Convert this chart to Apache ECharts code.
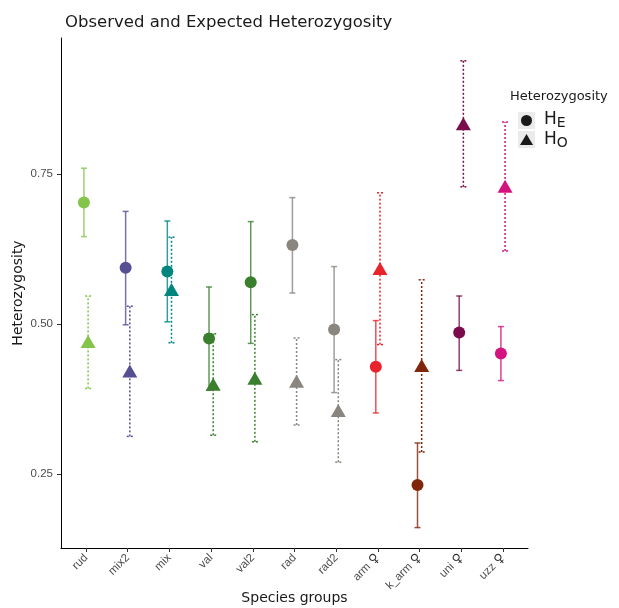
<!DOCTYPE html>
<html>
<head>
<meta charset="utf-8">
<script src="https://cdn.jsdelivr.net/npm/echarts@6/dist/echarts.min.js"></script>
<style>
  html, body { margin: 0; padding: 0; background: #fff; }
  #main { width: 619px; height: 608px; }
</style>
</head>
<body>
<div id="main"></div>
<script>
var groups = ['rud', 'mix2', 'mix', 'val', 'val2', 'rad', 'rad2', 'arm ♀', 'k_arm ♀', 'uni ♀', 'uzz ♀'];
var colors = ['#84c44b', '#564f94', '#00857f', '#3a7f2e', '#3a7f2e', '#8a857e', '#8a857e', '#e9232b', '#80260b', '#7a0c4c', '#d4137f'];

// expected heterozygosity (HE): mean, lower, upper
var heMean = [0.703, 0.594, 0.588, 0.476, 0.570, 0.632, 0.491, 0.429, 0.232, 0.486, 0.451];
var heLow  = [0.646, 0.499, 0.504, 0.390, 0.468, 0.552, 0.386, 0.352, 0.161, 0.423, 0.406];
var heHigh = [0.760, 0.688, 0.672, 0.562, 0.671, 0.711, 0.596, 0.506, 0.302, 0.547, 0.496];

// observed heterozygosity (HO): mean, lower, upper
var hoMean = [0.471, 0.422, 0.558, 0.400, 0.410, 0.405, 0.356, 0.593, 0.431, 0.834, 0.730];
var hoLow  = [0.393, 0.313, 0.469, 0.315, 0.304, 0.332, 0.270, 0.466, 0.287, 0.729, 0.622];
var hoHigh = [0.547, 0.530, 0.645, 0.484, 0.516, 0.477, 0.441, 0.719, 0.574, 0.939, 0.837];

var yTicks = [0.25, 0.50, 0.75];
var dodge = 0.05;

function rows(mean, low, high, off) {
  return mean.map(function (m, i) { return [i + off, low[i], high[i], m, i]; });
}

function barRender(dashed) {
  return function (params, api) {
    var x = api.value(0);
    var lo = api.coord([x, api.value(1)]);
    var hi = api.coord([x, api.value(2)]);
    var c = colors[api.value(4)];
    var w = 3;
    var style = { stroke: c, lineWidth: 1.5, opacity: dashed ? 1 : 0.8 };
    if (dashed) style.lineDash = [2, 2];
    return {
      type: 'group',
      children: [
        { type: 'line', shape: { x1: lo[0], y1: lo[1], x2: hi[0], y2: hi[1] }, style: style },
        { type: 'line', shape: { x1: lo[0] - w, y1: lo[1], x2: lo[0] + w, y2: lo[1] }, style: style },
        { type: 'line', shape: { x1: hi[0] - w, y1: hi[1], x2: hi[0] + w, y2: hi[1] }, style: style }
      ]
    };
  };
}

var chart = echarts.init(document.getElementById('main'), null, { renderer: 'canvas' });

var option = {
  animation: false,
  backgroundColor: '#fff',
  title: {
    text: 'Observed and Expected Heterozygosity',
    left: 60, top: 9,
    textStyle: { fontFamily: 'DejaVu Sans', fontSize: 16.5, fontWeight: 'normal', color: '#1a1a1a' }
  },
  grid: { left: 61, right: 91, top: 38, bottom: 60, outerBoundsMode: 'none', containLabel: false },
  xAxis: {
    type: 'value',
    min: -0.6, max: 10.6,
    name: 'Species groups',
    nameLocation: 'middle',
    nameGap: 43,
    nameMoveOverlap: false,
    nameTextStyle: { fontFamily: 'DejaVu Sans', fontSize: 14, color: '#1a1a1a' },
    splitLine: { show: false },
    axisLine: { show: true, onZero: false, lineStyle: { color: '#000', width: 1 } },
    axisTick: { show: true, length: 4, lineStyle: { color: '#333' }, customValues: groups.map(function (g, i) { return i; }) },
    axisLabel: {
      customValues: groups.map(function (g, i) { return i; }),
      rotate: 45, margin: 8,
      fontFamily: 'Liberation Sans', fontSize: 11, color: '#4d4d4d',
      rich: {
        t: { fontFamily: 'Liberation Sans', fontSize: 11.5, color: '#4d4d4d' },
        f: { fontFamily: 'DejaVu Sans', fontSize: 13, fontWeight: 'bold', color: '#333' }
      },
      formatter: function (v) {
        var s = groups[Math.round(v)];
        var k = s.indexOf(' ♀');
        if (k < 0) return '{t|' + s + '}';
        return '{t|' + s.slice(0, k) + ' }{f|♀}';
      }
    }
  },
  yAxis: {
    type: 'value',
    min: 0.127, max: 0.977,
    name: 'Heterozygosity',
    nameLocation: 'middle',
    nameGap: 36,
    nameMoveOverlap: false,
    nameTextStyle: { fontFamily: 'DejaVu Sans', fontSize: 14, color: '#1a1a1a' },
    splitLine: { show: false },
    axisLine: { show: true, onZero: false, lineStyle: { color: '#000', width: 1 } },
    axisTick: { show: true, length: 4, lineStyle: { color: '#333' }, customValues: yTicks },
    axisLabel: {
      customValues: yTicks,
      fontFamily: 'Liberation Sans', fontSize: 11.5, color: '#4d4d4d',
      formatter: function (v) { return v.toFixed(2); }
    }
  },
  graphic: [
    { type: 'text', left: 510, top: 90, style: { text: 'Heterozygosity', font: '13px DejaVu Sans', fill: '#1a1a1a' } },
    { type: 'rect', left: 518, top: 112, shape: { width: 17, height: 17 }, style: { fill: '#ebebeb' } },
    { type: 'rect', left: 518, top: 131, shape: { width: 17, height: 17 }, style: { fill: '#ebebeb' } },
    { type: 'circle', left: 521, top: 115, shape: { r: 5.5 }, style: { fill: '#1a1a1a' } },
    { type: 'polygon', left: 520, top: 134, shape: { points: [[6.5, 0], [13, 11], [0, 11]] }, style: { fill: '#1a1a1a' } },
    { type: 'text', left: 544, top: 111, style: { rich: { h: { font: '17px DejaVu Sans', fill: '#1a1a1a' }, s: { font: '14px DejaVu Sans', fill: '#1a1a1a', padding: [7, 0, 0, 0] } }, text: '{h|H}{s|E}' } },
    { type: 'text', left: 544, top: 131, style: { rich: { h: { font: '17px DejaVu Sans', fill: '#1a1a1a' }, s: { font: '14px DejaVu Sans', fill: '#1a1a1a', padding: [7, 0, 0, 0] } }, text: '{h|H}{s|O}' } }
  ],
  series: [
    {
      type: 'custom', name: 'HE bars',
      renderItem: barRender(false),
      encode: { x: 0, y: [1, 2] },
      data: rows(heMean, heLow, heHigh, -dodge), z: 2
    },
    {
      type: 'custom', name: 'HO bars',
      renderItem: barRender(true),
      encode: { x: 0, y: [1, 2] },
      data: rows(hoMean, hoLow, hoHigh, dodge), z: 2
    },
    {
      type: 'scatter', name: 'HE',
      symbol: 'circle', symbolSize: 12,
      data: heMean.map(function (m, i) { return { value: [i - dodge, m], itemStyle: { color: colors[i], opacity: 1 } }; }),
      z: 3
    },
    {
      type: 'scatter', name: 'HO',
      symbol: 'triangle', symbolSize: [15, 13],
      data: hoMean.map(function (m, i) { return { value: [i + dodge, m], itemStyle: { color: colors[i], opacity: 1 } }; }),
      z: 3
    }
  ]
};

chart.setOption(option);
</script>
</body>
</html>
